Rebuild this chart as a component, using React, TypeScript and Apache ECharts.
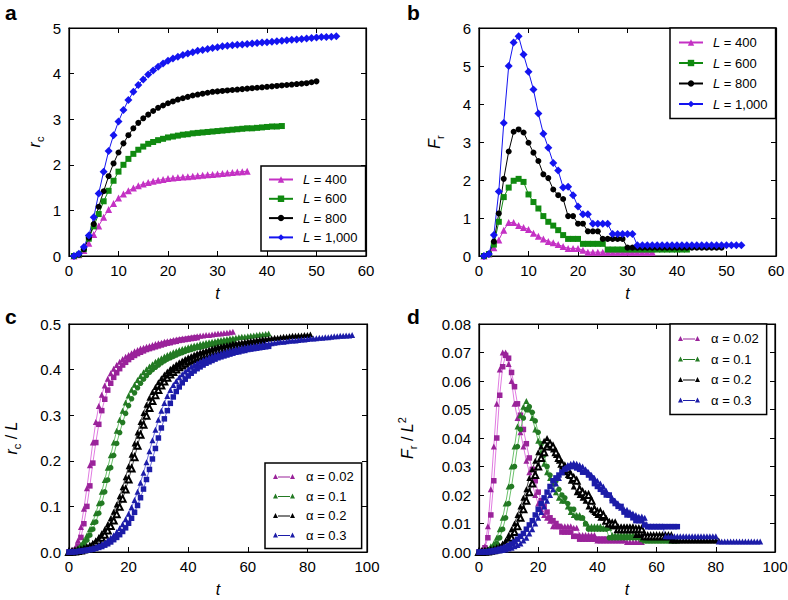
import React, { useEffect, useRef } from "react";
import * as echarts from "echarts";

const FONT = "'Liberation Sans', Arial, Helvetica, sans-serif";

// ---------- Panel a : r_c vs t (t starts at 1) ----------
const aL400 = [0, 0.03, 0.12, 0.28, 0.47, 0.66, 0.85, 1.02, 1.15, 1.27, 1.36, 1.43, 1.49, 1.54, 1.58, 1.61, 1.64, 1.66, 1.68, 1.7, 1.71, 1.72, 1.73, 1.74, 1.75, 1.76, 1.77, 1.78, 1.79, 1.8, 1.81, 1.82, 1.83, 1.84, 1.85, 1.86];
const aL600 = [0, 0.03, 0.15, 0.38, 0.65, 0.92, 1.2, 1.43, 1.65, 1.85, 2.0, 2.13, 2.24, 2.33, 2.4, 2.46, 2.5, 2.54, 2.57, 2.6, 2.62, 2.64, 2.66, 2.67, 2.69, 2.7, 2.71, 2.72, 2.73, 2.74, 2.75, 2.76, 2.77, 2.78, 2.79, 2.8, 2.8, 2.81, 2.82, 2.83, 2.84, 2.84, 2.85];
const aL800 = [0, 0.03, 0.15, 0.4, 0.7, 1.08, 1.42, 1.75, 2.03, 2.27, 2.47, 2.65, 2.8, 2.92, 3.02, 3.1, 3.18, 3.25, 3.3, 3.35, 3.39, 3.43, 3.46, 3.49, 3.52, 3.54, 3.56, 3.58, 3.6, 3.61, 3.62, 3.63, 3.64, 3.65, 3.66, 3.67, 3.68, 3.69, 3.7, 3.71, 3.72, 3.73, 3.74, 3.75, 3.76, 3.77, 3.78, 3.79, 3.81, 3.83];
const aL1000 = [0, 0.05, 0.2, 0.45, 0.85, 1.37, 1.85, 2.3, 2.65, 2.95, 3.2, 3.42, 3.6, 3.75, 3.87, 3.98, 4.07, 4.15, 4.22, 4.28, 4.33, 4.37, 4.41, 4.44, 4.47, 4.5, 4.52, 4.54, 4.56, 4.58, 4.6, 4.61, 4.62, 4.63, 4.64, 4.65, 4.66, 4.67, 4.68, 4.69, 4.7, 4.71, 4.72, 4.73, 4.74, 4.75, 4.76, 4.77, 4.78, 4.79, 4.8, 4.8, 4.81, 4.82];

// ---------- Panel b : F_r vs t (t starts at 1) ----------
const bL400 = [0, 0.05, 0.22, 0.42, 0.68, 0.88, 0.88, 0.8, 0.75, 0.7, 0.6, 0.52, 0.45, 0.38, 0.35, 0.3, 0.25, 0.2, 0.2, 0.2, 0.15, 0.1, 0.1, 0.1, 0.1, 0.1, 0.1, 0.1, 0.1, 0.1, 0.1, 0.1, 0.1, 0.1, 0.1];
const bL600 = [0, 0.05, 0.3, 0.9, 1.55, 1.8, 1.98, 2.03, 1.95, 1.62, 1.42, 1.25, 1.05, 0.9, 0.8, 0.68, 0.55, 0.45, 0.45, 0.45, 0.32, 0.32, 0.32, 0.32, 0.32, 0.17, 0.17, 0.17, 0.17, 0.17, 0.17, 0.17, 0.17, 0.17, 0.17, 0.17, 0.17, 0.17, 0.17, 0.17, 0.17, 0.17];
const bL800 = [0, 0.05, 0.38, 1.12, 2.03, 2.75, 3.27, 3.33, 3.25, 2.98, 2.72, 2.5, 2.15, 2.05, 1.75, 1.6, 1.5, 1.05, 1.05, 0.85, 0.85, 0.65, 0.65, 0.65, 0.45, 0.45, 0.45, 0.45, 0.45, 0.22, 0.22, 0.22, 0.22, 0.22, 0.22, 0.22, 0.22, 0.22, 0.22, 0.22, 0.22, 0.22, 0.22, 0.22, 0.22, 0.22, 0.22, 0.22, 0.22];
const bL1000 = [0, 0.05, 0.55, 1.7, 3.5, 5.0, 5.62, 5.78, 5.3, 4.85, 4.38, 3.75, 3.22, 2.85, 2.45, 2.25, 1.8, 1.82, 1.6, 1.3, 1.1, 1.1, 0.85, 0.85, 0.85, 0.85, 0.58, 0.58, 0.58, 0.58, 0.58, 0.28, 0.28, 0.28, 0.28, 0.28, 0.28, 0.28, 0.28, 0.28, 0.28, 0.28, 0.28, 0.28, 0.28, 0.28, 0.28, 0.28, 0.28, 0.28, 0.28, 0.28, 0.28];

// ---------- Panel c : r_c / L vs t (t starts at 0), two strands per alpha ----------
const cA002 = [0, 0.002, 0.008, 0.025, 0.055, 0.095, 0.14, 0.19, 0.24, 0.285, 0.32, 0.345, 0.365, 0.38, 0.392, 0.402, 0.41, 0.417, 0.423, 0.428, 0.432, 0.436, 0.44, 0.443, 0.446, 0.448, 0.45, 0.452, 0.454, 0.456, 0.458, 0.459, 0.461, 0.462, 0.463, 0.465, 0.466, 0.467, 0.468, 0.469, 0.47, 0.471, 0.472, 0.473, 0.474, 0.475, 0.476, 0.476, 0.477, 0.478, 0.479, 0.479, 0.48, 0.481, 0.482, 0.483];
const cB002 = [0, 0.001, 0.004, 0.013, 0.032, 0.062, 0.1, 0.145, 0.195, 0.24, 0.28, 0.31, 0.335, 0.355, 0.37, 0.383, 0.393, 0.402, 0.41, 0.416, 0.422, 0.427, 0.431, 0.435, 0.438, 0.441, 0.444, 0.446, 0.448, 0.45, 0.452, 0.454, 0.456, 0.458, 0.459, 0.461, 0.462, 0.464, 0.465, 0.466, 0.467, 0.468, 0.469, 0.47];
const cA01 = [0, 0.001, 0.004, 0.009, 0.016, 0.025, 0.036, 0.05, 0.066, 0.085, 0.107, 0.132, 0.158, 0.185, 0.212, 0.24, 0.266, 0.29, 0.31, 0.328, 0.343, 0.356, 0.367, 0.377, 0.386, 0.394, 0.401, 0.407, 0.412, 0.417, 0.421, 0.425, 0.429, 0.432, 0.435, 0.438, 0.44, 0.443, 0.445, 0.447, 0.449, 0.451, 0.453, 0.454, 0.456, 0.457, 0.459, 0.46, 0.461, 0.462, 0.464, 0.465, 0.466, 0.467, 0.468, 0.469, 0.47, 0.471, 0.472, 0.472, 0.473, 0.474, 0.475, 0.476, 0.477, 0.477, 0.478, 0.479];
const cB01 = [0, 0.0005, 0.002, 0.005, 0.01, 0.017, 0.026, 0.037, 0.05, 0.066, 0.085, 0.107, 0.132, 0.158, 0.185, 0.212, 0.238, 0.262, 0.284, 0.304, 0.321, 0.336, 0.349, 0.36, 0.37, 0.379, 0.387, 0.394, 0.4, 0.405, 0.41, 0.415, 0.419, 0.423, 0.426, 0.429, 0.432, 0.435, 0.437, 0.44, 0.442, 0.444, 0.446, 0.448, 0.449, 0.451, 0.452, 0.454, 0.455, 0.456, 0.458, 0.459, 0.46, 0.461, 0.462, 0.463];
const cA02 = [0, 0.0005, 0.0015, 0.003, 0.005, 0.008, 0.011, 0.015, 0.02, 0.026, 0.033, 0.041, 0.05, 0.061, 0.074, 0.088, 0.104, 0.122, 0.142, 0.164, 0.188, 0.213, 0.238, 0.262, 0.285, 0.305, 0.323, 0.338, 0.351, 0.362, 0.372, 0.381, 0.389, 0.396, 0.402, 0.407, 0.412, 0.416, 0.42, 0.424, 0.427, 0.43, 0.433, 0.436, 0.438, 0.44, 0.442, 0.444, 0.446, 0.448, 0.45, 0.451, 0.453, 0.454, 0.455, 0.457, 0.458, 0.459, 0.46, 0.461, 0.462, 0.463, 0.464, 0.465, 0.466, 0.467, 0.467, 0.468, 0.469, 0.47, 0.47, 0.471, 0.472, 0.472, 0.473, 0.474, 0.474, 0.475, 0.475, 0.476, 0.476, 0.477];
const cB02 = [0, 0.0003, 0.001, 0.002, 0.0035, 0.0055, 0.008, 0.011, 0.015, 0.02, 0.025, 0.031, 0.038, 0.047, 0.057, 0.069, 0.083, 0.099, 0.117, 0.137, 0.159, 0.183, 0.208, 0.233, 0.257, 0.279, 0.299, 0.316, 0.331, 0.344, 0.355, 0.365, 0.374, 0.382, 0.389, 0.395, 0.4, 0.405, 0.409, 0.413, 0.417, 0.42, 0.423, 0.426, 0.429, 0.431, 0.433, 0.435, 0.437, 0.439, 0.441, 0.443, 0.444, 0.446, 0.447, 0.449, 0.45, 0.451, 0.452, 0.453, 0.454, 0.455, 0.456, 0.457, 0.458, 0.459];
const cA03 = [0, 0.0003, 0.001, 0.002, 0.003, 0.004, 0.005, 0.007, 0.009, 0.011, 0.014, 0.017, 0.021, 0.026, 0.031, 0.037, 0.044, 0.052, 0.061, 0.072, 0.084, 0.098, 0.114, 0.132, 0.152, 0.174, 0.197, 0.221, 0.245, 0.268, 0.29, 0.31, 0.327, 0.342, 0.355, 0.366, 0.375, 0.383, 0.39, 0.396, 0.401, 0.406, 0.41, 0.414, 0.418, 0.421, 0.424, 0.427, 0.43, 0.432, 0.434, 0.436, 0.438, 0.44, 0.442, 0.443, 0.445, 0.446, 0.448, 0.449, 0.45, 0.451, 0.452, 0.453, 0.454, 0.455, 0.456, 0.457, 0.458, 0.459, 0.46, 0.461, 0.461, 0.462, 0.463, 0.464, 0.464, 0.465, 0.466, 0.466, 0.467, 0.468, 0.468, 0.469, 0.47, 0.47, 0.471, 0.471, 0.472, 0.473, 0.473, 0.474, 0.474, 0.475, 0.475, 0.476];
const cB03 = [0, 0.0002, 0.0006, 0.0012, 0.002, 0.003, 0.004, 0.005, 0.006, 0.008, 0.01, 0.012, 0.015, 0.018, 0.022, 0.027, 0.032, 0.038, 0.045, 0.053, 0.063, 0.074, 0.087, 0.102, 0.119, 0.138, 0.159, 0.181, 0.204, 0.227, 0.25, 0.272, 0.292, 0.31, 0.326, 0.34, 0.352, 0.362, 0.371, 0.379, 0.386, 0.392, 0.397, 0.402, 0.406, 0.41, 0.414, 0.417, 0.42, 0.423, 0.426, 0.428, 0.43, 0.432, 0.434, 0.436, 0.438, 0.439, 0.441, 0.442, 0.444, 0.445, 0.446, 0.447, 0.448, 0.449, 0.45, 0.451];

// ---------- Panel d : F_r / L^2 vs t (t starts at 0), two strands per alpha ----------
const dA002 = [0, 0.0005, 0.002, 0.009, 0.022, 0.037, 0.052, 0.064, 0.07, 0.07, 0.066, 0.06, 0.052, 0.047, 0.042, 0.037, 0.032, 0.028, 0.024, 0.02, 0.017, 0.015, 0.013, 0.012, 0.011, 0.009, 0.009, 0.009, 0.009, 0.009, 0.009, 0.009, 0.0085, 0.0085, 0.006, 0.006, 0.006, 0.006, 0.006, 0.006, 0.004, 0.004, 0.004, 0.004, 0.004, 0.004, 0.004, 0.004, 0.004, 0.004, 0.0035, 0.0035, 0.0035, 0.0035, 0.0035, 0.0035];
const dB002 = [0, 0.0003, 0.0015, 0.005, 0.013, 0.025, 0.04, 0.055, 0.065, 0.069, 0.068, 0.063, 0.058, 0.052, 0.048, 0.043, 0.038, 0.033, 0.029, 0.025, 0.021, 0.018, 0.016, 0.014, 0.012, 0.011, 0.01, 0.009, 0.007, 0.007, 0.007, 0.007, 0.0055, 0.0055, 0.0045, 0.0045, 0.0045, 0.0045, 0.0045, 0.0045, 0.0045, 0.0045, 0.0045, 0.0045];
const dA01 = [0, 0.0002, 0.0005, 0.001, 0.002, 0.003, 0.005, 0.008, 0.012, 0.017, 0.023, 0.03, 0.037, 0.044, 0.048, 0.051, 0.053, 0.05, 0.047, 0.043, 0.039, 0.035, 0.031, 0.028, 0.026, 0.024, 0.021, 0.019, 0.018, 0.018, 0.016, 0.014, 0.013, 0.013, 0.013, 0.012, 0.01, 0.009, 0.009, 0.009, 0.009, 0.009, 0.0085, 0.0085, 0.0085, 0.006, 0.006, 0.006, 0.006, 0.006, 0.006, 0.006, 0.006, 0.006, 0.006, 0.0045, 0.004, 0.004, 0.004, 0.004, 0.004, 0.004, 0.004, 0.004, 0.004, 0.004, 0.004, 0.004];
const dB01 = [0, 0.0001, 0.0003, 0.0006, 0.001, 0.002, 0.003, 0.005, 0.008, 0.012, 0.017, 0.023, 0.03, 0.037, 0.043, 0.047, 0.05, 0.051, 0.049, 0.046, 0.042, 0.038, 0.034, 0.03, 0.027, 0.025, 0.025, 0.022, 0.02, 0.019, 0.017, 0.015, 0.015, 0.012, 0.012, 0.012, 0.01, 0.008, 0.008, 0.008, 0.008, 0.008, 0.008, 0.008, 0.005, 0.005, 0.005, 0.005, 0.005, 0.005, 0.005, 0.005, 0.005, 0.005, 0.005, 0.005];
const dA02 = [0, 0.0001, 0.0002, 0.0004, 0.0007, 0.001, 0.0015, 0.002, 0.003, 0.004, 0.006, 0.008, 0.01, 0.013, 0.016, 0.019, 0.022, 0.026, 0.029, 0.032, 0.035, 0.037, 0.039, 0.04, 0.038, 0.036, 0.034, 0.032, 0.03, 0.028, 0.027, 0.025, 0.023, 0.021, 0.02, 0.019, 0.018, 0.016, 0.015, 0.014, 0.013, 0.012, 0.012, 0.012, 0.011, 0.009, 0.009, 0.009, 0.009, 0.009, 0.009, 0.009, 0.009, 0.006, 0.006, 0.006, 0.006, 0.006, 0.006, 0.006, 0.006, 0.006, 0.006, 0.006, 0.006, 0.004, 0.004, 0.004, 0.004, 0.004, 0.004, 0.004, 0.004, 0.004, 0.004, 0.004, 0.004, 0.004, 0.004, 0.004, 0.004, 0.004];
const dB02 = [0, 0, 0.0001, 0.0002, 0.0004, 0.0006, 0.001, 0.0014, 0.002, 0.003, 0.004, 0.005, 0.007, 0.009, 0.012, 0.015, 0.018, 0.021, 0.024, 0.027, 0.03, 0.033, 0.035, 0.037, 0.038, 0.037, 0.035, 0.033, 0.031, 0.03, 0.029, 0.027, 0.026, 0.025, 0.022, 0.021, 0.02, 0.02, 0.018, 0.015, 0.014, 0.014, 0.013, 0.011, 0.01, 0.01, 0.01, 0.008, 0.008, 0.008, 0.008, 0.008, 0.008, 0.008, 0.008, 0.008, 0.0055, 0.0055, 0.0055, 0.0055, 0.0055, 0.0055, 0.0055, 0.0055, 0.0055, 0.0055];
const dA03 = [0, 0, 0.0001, 0.0001, 0.0002, 0.0003, 0.0004, 0.0005, 0.0007, 0.0009, 0.0012, 0.0015, 0.002, 0.0025, 0.003, 0.004, 0.005, 0.0065, 0.008, 0.01, 0.012, 0.014, 0.016, 0.018, 0.02, 0.022, 0.024, 0.026, 0.028, 0.0295, 0.0305, 0.031, 0.0312, 0.031, 0.0305, 0.03, 0.029, 0.028, 0.027, 0.026, 0.025, 0.024, 0.023, 0.0215, 0.02, 0.019, 0.018, 0.017, 0.0155, 0.015, 0.0148, 0.014, 0.0135, 0.013, 0.0125, 0.0125, 0.012, 0.009, 0.009, 0.009, 0.009, 0.009, 0.009, 0.0055, 0.0055, 0.0055, 0.0055, 0.0055, 0.0055, 0.0055, 0.0055, 0.0055, 0.0055, 0.0055, 0.0055, 0.0055, 0.0055, 0.0055, 0.0055, 0.0055, 0.0055, 0.0037, 0.0037, 0.0037, 0.0037, 0.0037, 0.0037, 0.0037, 0.0037, 0.0037, 0.0037, 0.0037, 0.0037, 0.0037, 0.0037, 0.0037];
const dB03 = [0, 0, 0.0001, 0.0002, 0.0003, 0.0005, 0.0007, 0.001, 0.0013, 0.0017, 0.0022, 0.0028, 0.0035, 0.0045, 0.0055, 0.0065, 0.008, 0.0095, 0.011, 0.013, 0.015, 0.017, 0.019, 0.021, 0.023, 0.025, 0.026, 0.027, 0.028, 0.029, 0.0295, 0.03, 0.03, 0.0295, 0.029, 0.028, 0.028, 0.027, 0.026, 0.024, 0.023, 0.022, 0.021, 0.02, 0.02, 0.018, 0.017, 0.016, 0.016, 0.014, 0.013, 0.013, 0.012, 0.011, 0.011, 0.011, 0.0095, 0.0089, 0.0089, 0.0089, 0.0089, 0.0089, 0.0089, 0.0089, 0.0089, 0.0089, 0.0089, 0.0089];

// ---------- legends & axes ----------
const lNames = ["L = 400", "L = 600", "L = 800", "L = 1,000"];
const alphaNames = ["α = 0.02", "α = 0.1", "α = 0.2", "α = 0.3"];
const xRanges = [[0, 60, 10], [0, 60, 10], [0, 100, 20], [0, 100, 20]];
const yRanges = [[0, 5, 1], [0, 6, 1], [0, 0.5, 0.1], [0, 0.08, 0.01]];
const yDecimals = [0, 0, 1, 2];
const yNames = ["{i|r}{s|c}", "{i|F}{s|r}", "{i|r}{s|c}{n| / }{i|L}", "{i|F}{s|r}{n| / }{i|L}{p|2}"];
const panelLetters = ["a", "b", "c", "d"];

const pts = (arr: number[], t0: number) => arr.map((v, i) => [t0 + i, v]);

const ALPHA_ICON = "path://M0,5L2.5,0L5,5Z M5,2.6L17,2.6L17,3.4L5,3.4Z M17,5L19.5,0L22,5Z";

export default function App() {
  const ref = useRef<HTMLDivElement>(null);

  useEffect(() => {
    document.body.style.margin = "0";
    if (!ref.current) return;
    const chart = echarts.init(ref.current, undefined, { renderer: "svg" });

    const gridBoxes = [
      { left: 69, top: 28, width: 297, height: 228 },
      { left: 479, top: 28, width: 297, height: 228 },
      { left: 69, top: 324, width: 298, height: 228 },
      { left: 479, top: 324, width: 296, height: 228 },
    ];
    const grid = gridBoxes.map((g) => ({
      ...g,
      show: true,
      borderColor: "#000",
      borderWidth: 1.2,
      containLabel: false,
      outerBoundsMode: "none",
    }));

    const lineStyleAxis = { color: "#000", width: 1.2 };
    const tickStyle = { inside: true, length: 5, lineStyle: { color: "#000", width: 1 } };
    const labelFont = { fontFamily: FONT, fontSize: 15, color: "#000" };

    const xAxis: any[] = [];
    const yAxis: any[] = [];
    const yNameGaps = [24, 34, 47, 61];
    const rich = {
      i: { fontStyle: "italic", fontSize: 16, fontFamily: FONT, color: "#000", lineHeight: 22 },
      s: { fontSize: 11, fontFamily: FONT, color: "#000", verticalAlign: "bottom" },
      p: { fontSize: 11, fontFamily: FONT, color: "#000", verticalAlign: "top" },
      n: { fontSize: 16, fontFamily: FONT, color: "#000" },
    };
    for (let k = 0; k < 4; k++) {
      const [x0, x1, xi] = xRanges[k];
      const [y0, y1, yi] = yRanges[k];
      xAxis[k] = {
        type: "value", gridIndex: k, min: x0, max: x1, interval: xi, position: "bottom",
        axisLine: { show: true, onZero: false, lineStyle: lineStyleAxis },
        axisTick: tickStyle,
        axisLabel: { margin: 7, ...labelFont },
        splitLine: { show: false },
        name: "t", nameLocation: "middle", nameGap: 29,
        nameTextStyle: { fontStyle: "italic", fontSize: 16, fontFamily: FONT, color: "#000" },
      };
      xAxis[k + 4] = {
        type: "value", gridIndex: k, min: x0, max: x1, interval: xi, position: "top",
        axisLine: { show: true, onZero: false, lineStyle: lineStyleAxis },
        axisTick: tickStyle, axisLabel: { show: false }, splitLine: { show: false },
      };
      const dec = yDecimals[k];
      yAxis[k] = {
        type: "value", gridIndex: k, min: y0, max: y1, interval: yi, position: "left",
        axisLine: { show: true, onZero: false, lineStyle: lineStyleAxis },
        axisTick: tickStyle,
        axisLabel: { margin: 8, ...labelFont, formatter: (v: number) => v.toFixed(dec) },
        splitLine: { show: false },
        name: yNames[k], nameLocation: "middle", nameGap: yNameGaps[k], nameRotate: 90,
        nameTextStyle: { rich },
      };
      yAxis[k + 4] = {
        type: "value", gridIndex: k, min: y0, max: y1, interval: yi, position: "right",
        axisLine: { show: true, onZero: false, lineStyle: lineStyleAxis },
        axisTick: tickStyle, axisLabel: { show: false }, splitLine: { show: false },
      };
    }

    const ln = (name: string, idx: number, data: number[][], color: string, lineColor: string, symbol: string, size: number) => ({
      type: "line", name, xAxisIndex: idx, yAxisIndex: idx, data, symbol, symbolSize: size,
      showSymbol: true, itemStyle: { color }, lineStyle: { color: lineColor, width: 1 },
      emphasis: { disabled: true }, animation: false,
    });

    const MAG = "#c431c4", GRN = "#108a10", BLK = "#000000", BLU = "#1414f0";
    const M2 = "#9a239a", M2L = "#e07be0", G2 = "#237a23", G2L = "#6cc06c", K2 = "#000000", K2L = "#444444", B2 = "#1c1ca8", B2L = "#7070e0";

    const series: any[] = [
      ln(lNames[0], 0, pts(aL400, 1), MAG, MAG, "triangle", 7),
      ln(lNames[1], 0, pts(aL600, 1), GRN, GRN, "rect", 6),
      ln(lNames[2], 0, pts(aL800, 1), BLK, BLK, "circle", 6),
      ln(lNames[3], 0, pts(aL1000, 1), BLU, BLU, "diamond", 8),
      ln(lNames[0], 1, pts(bL400, 1), MAG, MAG, "triangle", 7),
      ln(lNames[1], 1, pts(bL600, 1), GRN, GRN, "rect", 6),
      ln(lNames[2], 1, pts(bL800, 1), BLK, BLK, "circle", 6),
      ln(lNames[3], 1, pts(bL1000, 1), BLU, BLU, "diamond", 8),

      ln(alphaNames[0], 2, pts(cA002, 0), M2, M2L, "triangle", 6),
      ln(alphaNames[0] + " b", 2, pts(cB002, 0), M2, M2L, "rect", 5.5),
      ln(alphaNames[1], 2, pts(cA01, 0), G2, G2L, "triangle", 6),
      ln(alphaNames[1] + " b", 2, pts(cB01, 0), G2, G2L, "circle", 5.5),
      ln(alphaNames[2], 2, pts(cA02, 0), K2, K2L, "triangle", 6),
      ln(alphaNames[2] + " b", 2, pts(cB02, 0), K2, K2L, "emptyTriangle", 6),
      ln(alphaNames[3], 2, pts(cA03, 0), B2, B2L, "triangle", 6),
      ln(alphaNames[3] + " b", 2, pts(cB03, 0), B2, B2L, "rect", 5.5),

      ln(alphaNames[0], 3, pts(dA002, 0), M2, M2L, "triangle", 6),
      ln(alphaNames[0] + " b", 3, pts(dB002, 0), M2, M2L, "rect", 5.5),
      ln(alphaNames[1], 3, pts(dA01, 0), G2, G2L, "triangle", 6),
      ln(alphaNames[1] + " b", 3, pts(dB01, 0), G2, G2L, "circle", 5.5),
      ln(alphaNames[2], 3, pts(dA02, 0), K2, K2L, "triangle", 6),
      ln(alphaNames[2] + " b", 3, pts(dB02, 0), K2, K2L, "emptyTriangle", 6),
      ln(alphaNames[3], 3, pts(dA03, 0), B2, B2L, "triangle", 6),
      ln(alphaNames[3] + " b", 3, pts(dB03, 0), B2, B2L, "rect", 5.5),
    ];

    const legendBase = {
      orient: "vertical", selectedMode: false, backgroundColor: "#fff",
      borderColor: "#000", borderWidth: 1.5, borderRadius: 0,
    };
    const lText = {
      fontFamily: FONT, fontSize: 13, color: "#000", padding: [0, 0, 0, 5],
      rich: { i: { fontFamily: FONT, fontSize: 13, fontStyle: "italic", color: "#000" } },
    };
    const aText = { fontFamily: FONT, fontSize: 13, color: "#000", padding: [0, 0, 0, 6] };
    const legend = [
      { ...legendBase, left: 261, top: 166, padding: [7, 8, 7, 7], itemGap: 6.3, itemWidth: 24, itemHeight: 8, data: lNames, textStyle: lText, formatter: (n: string) => n.replace("L", "{i|L}") },
      { ...legendBase, left: 670, top: 28, padding: [8, 8, 8, 8], itemGap: 7.5, itemWidth: 24, itemHeight: 8, data: lNames, textStyle: lText, formatter: (n: string) => n.replace("L", "{i|L}") },
      { ...legendBase, left: 265, top: 463, padding: [7, 8, 7, 8], itemGap: 6.5, itemWidth: 22, itemHeight: 5, data: alphaNames.map((n) => ({ name: n, icon: ALPHA_ICON })), textStyle: aText },
      { ...legendBase, left: 670, top: 324, padding: [8, 8, 8, 8], itemGap: 7.5, itemWidth: 22, itemHeight: 5, data: alphaNames.map((n) => ({ name: n, icon: ALPHA_ICON })), textStyle: aText },
    ];

    const letterPos = [[5, 12.6], [407, 12.6], [5, 316.6], [407, 316.6]];
    const graphic = panelLetters.map((t, k) => ({
      type: "text", x: letterPos[k][0], y: letterPos[k][1],
      style: { text: t, fontFamily: FONT, fontSize: 21, fontWeight: "bold", fill: "#000", verticalAlign: "middle" },
    }));

    chart.setOption({
      animation: false,
      backgroundColor: "#fff",
      grid, xAxis, yAxis, series, legend, graphic,
    });

    return () => chart.dispose();
  }, []);

  return <div ref={ref} style={{ width: 788, height: 600 }} />;
}
